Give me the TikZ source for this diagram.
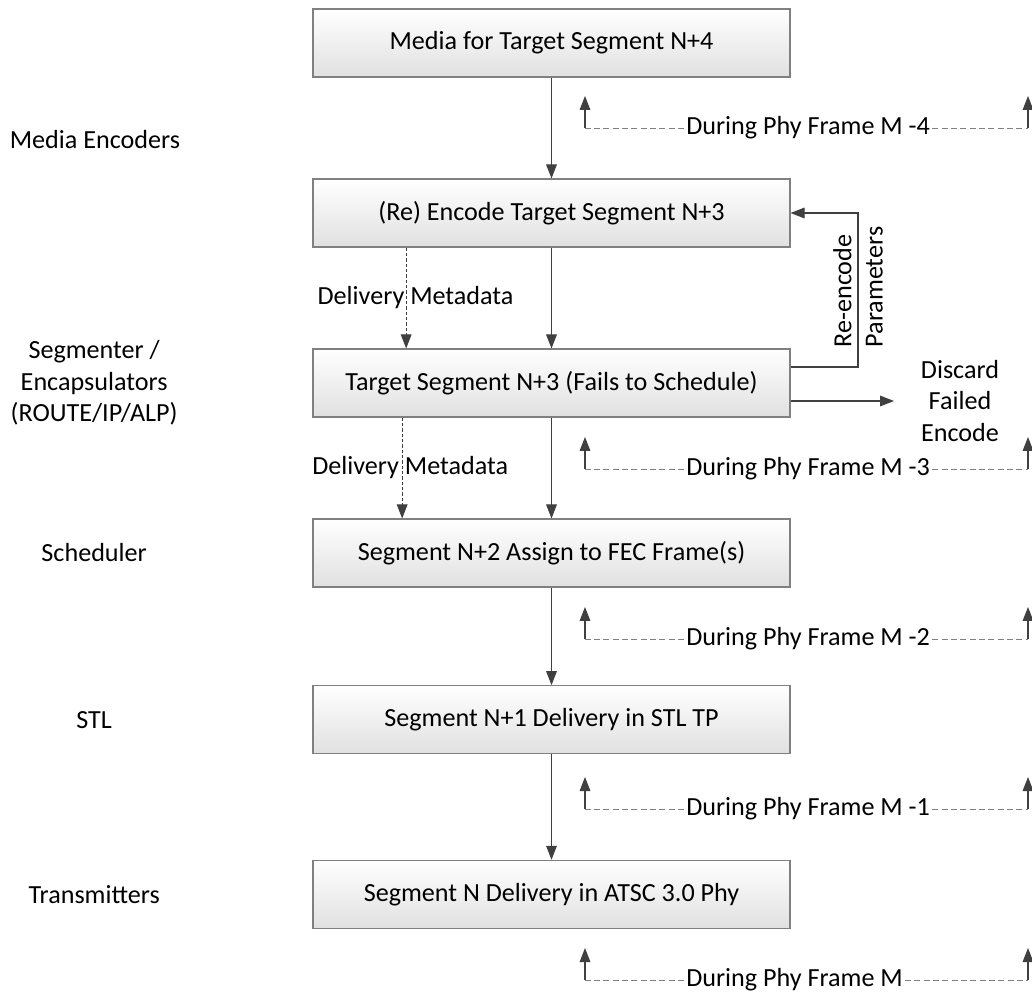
\documentclass[tikz,border=0pt]{standalone}
\usepackage{fontspec}
\setmainfont{Carlito}
\usepackage{tikz}
\usetikzlibrary{shapes,arrows.meta,positioning}
\definecolor{edgegray}{HTML}{808080}
\definecolor{linegray}{HTML}{404040}
\tikzstyle{block} = [rectangle, draw=edgegray, line width=0.8pt, top color=white, bottom color=black!12, text centered, minimum width=357.75pt, minimum height=51pt, inner sep=0pt]
\tikzstyle{layer} = [align=center, inner sep=0pt]
\tikzstyle{line} = [draw=linegray, line width=0.8pt, -{Triangle[length=10.5pt,width=8pt]}]
\tikzstyle{dline} = [line, line width=0.6pt, dash pattern=on 2.5pt off 1.5pt]
\tikzstyle{bracket} = [draw=edgegray, line width=0.7pt, dash pattern=on 4.5pt off 2.5pt]
\tikzstyle{phase} = [anchor=west, inner xsep=1.5pt]
\begin{document}
\begin{tikzpicture}[x=0.75pt, y=-0.75pt, node distance=127.5pt, font=\fontsize{19.6pt}{23.5pt}\selectfont]
			\useasboundingbox (0,0) rectangle (1032,994);
			\node [block] (media) at (551.5,43) {Media for Target Segment N+4};
			\node [block, below of=media] (encode) {(Re) Encode Target Segment N+3};
			\node [block, below of=encode] (segment) {Target Segment N+3 (Fails to Schedule)};
			\node [block, below of=segment] (assign) {Segment N+2 Assign to FEC Frame(s)};
			\node [block, below of=assign, node distance=125pt] (stl) {Segment N+1 Delivery in STL TP};
			\node [block, below of=stl, node distance=131pt] (phy) {Segment N Delivery in ATSC 3.0 Phy};
			% layers on the left
			\node [layer] (encoders) at (95,140) {Media Encoders};
			\node [layer, left of=segment, node distance=343pt] (segmenter) {Segmenter /\\Encapsulators\\(ROUTE/IP/ALP)};
			\node [layer, left of=assign, node distance=343pt] (scheduler) {Scheduler};
			\node [layer, left of=stl, node distance=343pt] (stllayer) {STL};
			\node [layer, left of=phy, node distance=343pt] (transmitters) {Transmitters};
			\node [align=center, inner xsep=20pt] (discard) at (960,401) {Discard\\Failed\\Encode};
			\node [rotate=90, anchor=west, align=left, inner sep=1pt] (params) at (858,349) {Re-encode\\Parameters};
			\coordinate (feedback) at (858,213);
			\path [line] (media) -- (encode);
			\path [line] (encode) -- (segment);
			\path [line] (segment) -- (assign);
			\path [line] (assign) -- (stl);
			\path [line] (stl) -- (phy);
			\path [dline] ([xshift=-109pt]encode.south) -- node [xshift=7pt] {Delivery Metadata} ([xshift=-109pt]segment.north);
			\path [dline] ([xshift=-112pt]segment.south) -- node [xshift=6pt] {Delivery Metadata} ([xshift=-112pt]assign.north);
			\path [line] ([yshift=12pt]segment.east) -| (feedback) -- (encode.east);
			\path [line] (segment.east |- discard.west) -- (discard.west);
			% phy frame markers
			\foreach \y/\m [count=\i] in {128/M -4, 469/M -3, 639/M -2, 809/M -1, 980/M} {
				\node [phase] (phase\i) at (684,\y) {During Phy Frame \m};
				\coordinate (lcorner\i) at (585,\y);
				\coordinate (ltip\i) at (585,\y-32);
				\coordinate (rcorner\i) at (1028,\y);
				\coordinate (rtip\i) at (1028,\y-32);
				\path [bracket] (phase\i.west) -- (lcorner\i) (phase\i.east) -- (rcorner\i);
				\path [line] (lcorner\i) -- (ltip\i);
				\path [line] (rcorner\i) -- (rtip\i);
			}
		\end{tikzpicture}
\end{document}
